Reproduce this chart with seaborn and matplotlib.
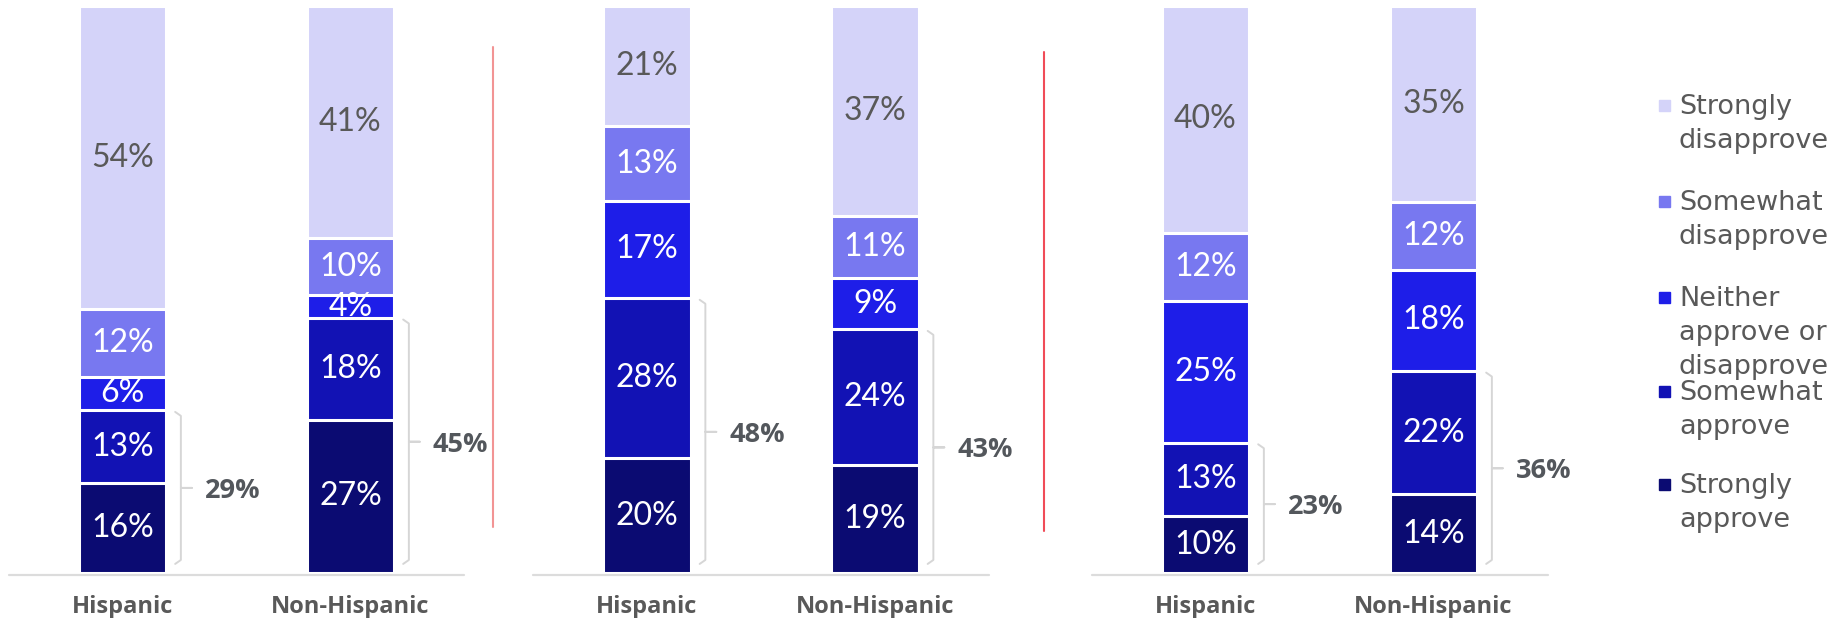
import matplotlib
matplotlib.use("Agg")
import matplotlib.pyplot as plt
from matplotlib.lines import Line2D
from matplotlib.patches import Rectangle
import seaborn as sns
import pandas as pd

# categories, bottom of the stack first
groups = ["Hispanic", "Non-Hispanic"]
categories = ["Strongly approve", "Somewhat approve", "Neither approve or disapprove",
              "Somewhat disapprove", "Strongly disapprove"]
legend_labels = ["Strongly\ndisapprove", "Somewhat\ndisapprove", "Neither\napprove or\ndisapprove",
                 "Somewhat\napprove", "Strongly\napprove"]
colors = ["#0B0B72", "#1212B4", "#1E1EE8", "#7878F0", "#D4D3F9"]

# values per panel (Hispanic, Non-Hispanic), same order as categories
panel1_hispanic = [16, 13, 6, 12, 54]
panel1_non_hispanic = [27, 18, 4, 10, 41]
panel2_hispanic = [20, 28, 17, 13, 21]
panel2_non_hispanic = [19, 24, 9, 11, 37]
panel3_hispanic = [10, 13, 25, 12, 40]
panel3_non_hispanic = [14, 22, 18, 12, 35]

panels = [(panel1_hispanic, panel1_non_hispanic),
          (panel2_hispanic, panel2_non_hispanic),
          (panel3_hispanic, panel3_non_hispanic)]

W, H = 1837, 618
GRAY = "#595959"

sns.set_theme(style="white")
plt.rcParams["font.family"] = ["Lato", "DejaVu Sans"]
BOLD_FONT = ["Open Sans", "DejaVu Sans"]

fig = plt.figure(figsize=(W / 100, H / 100), dpi=100)


def px_box(left, right, top, bottom):
    return [left / W, 1 - bottom / H, (right - left) / W, (bottom - top) / H]


def build_frame(hisp, non):
    rows = []
    for g, vals in zip(groups, (hisp, non)):
        total = sum(vals)
        cum = 0
        for cat, v in zip(categories, vals):
            pct = v / total * 100
            cum += pct
            rows.append(dict(group=g, category=cat, value=v, pct=pct, top=cum))
    return pd.DataFrame(rows)


panel_lefts = [8.5, 533, 1091.5]
for left, (hisp, non) in zip(panel_lefts, panels):
    ax = fig.add_axes(px_box(left, left + 456, 6, 573))
    df = build_frame(hisp, non)

    # stacked bars: draw cumulative heights from the top segment down
    for cat, col in reversed(list(zip(categories, colors))):
        sns.barplot(data=df[df["category"] == cat], x="group", y="top", order=groups,
                    color=col, saturation=1, width=0.385, edgecolor="white",
                    linewidth=2.2, errorbar=None, ax=ax)

    for _, r in df.iterrows():
        xi = groups.index(r["group"])
        light = r["category"] == "Strongly disapprove"
        ax.text(xi, r["top"] - r["pct"] / 2, f"{r['value']}%", ha="center", va="center",
                fontsize=23, fontweight="normal", color=GRAY if light else "white")

    # approve brackets with totals
    for xi, (g, vals) in enumerate(zip(groups, (hisp, non))):
        sub = df[df["group"] == g]
        top = sub[sub["category"] == "Somewhat approve"]["top"].iloc[0] - 0.3
        bot = 1.6
        mid = (top + bot) / 2
        bx = xi + 0.256
        ax.plot([bx - 0.025, bx, bx, bx + 0.048, bx, bx, bx - 0.025],
                [top, top - 0.7, mid, mid, mid, bot + 0.7, bot],
                color="#D6D6D6", lw=1.4, solid_joinstyle="round", clip_on=False)
        ax.text(xi + 0.36, mid - 0.5, f"{vals[0] + vals[1]}%", ha="left", va="center",
                fontsize=19.5, fontweight="bold", family=BOLD_FONT, color="#53575C")

    ax.axhline(-0.35, color="#DCDCDC", lw=1.6, clip_on=False, zorder=0.5)
    ax.set_xlim(-0.5, 1.5)
    ax.set_ylim(0, 100)
    ax.set_xlabel("")
    ax.set_ylabel("")
    ax.set_yticks([])
    ax.set_xticks(range(len(groups)))
    ax.set_xticklabels(groups, fontsize=17, fontweight="bold", family=BOLD_FONT, color=GRAY)
    ax.tick_params(axis="x", length=0, pad=15.5)
    sns.despine(ax=ax, left=True, bottom=True)

# red separators between panels
fig.add_artist(Line2D([493 / W, 493 / W], [1 - 47 / H, 1 - 527 / H], color="#F29494", lw=1.5))
fig.add_artist(Line2D([1044 / W, 1044 / W], [1 - 52 / H, 1 - 531 / H], color="#F04C58", lw=1.5))

# legend, top entry first
legend_rows = [105, 201, 297, 391, 484]
for yc, lab, col in zip(legend_rows, legend_labels, colors[::-1]):
    fig.add_artist(Rectangle((1659 / W, 1 - (yc + 5.5) / H), 11 / W, 11 / H,
                             transform=fig.transFigure, color=col))
    fig.text(1679 / W, 1 - (yc - 11) / H, lab, ha="left", va="top", fontsize=19.5,
             family="DejaVu Sans", color=GRAY, linespacing=1.4)

fig.savefig("out.png", dpi=100)
